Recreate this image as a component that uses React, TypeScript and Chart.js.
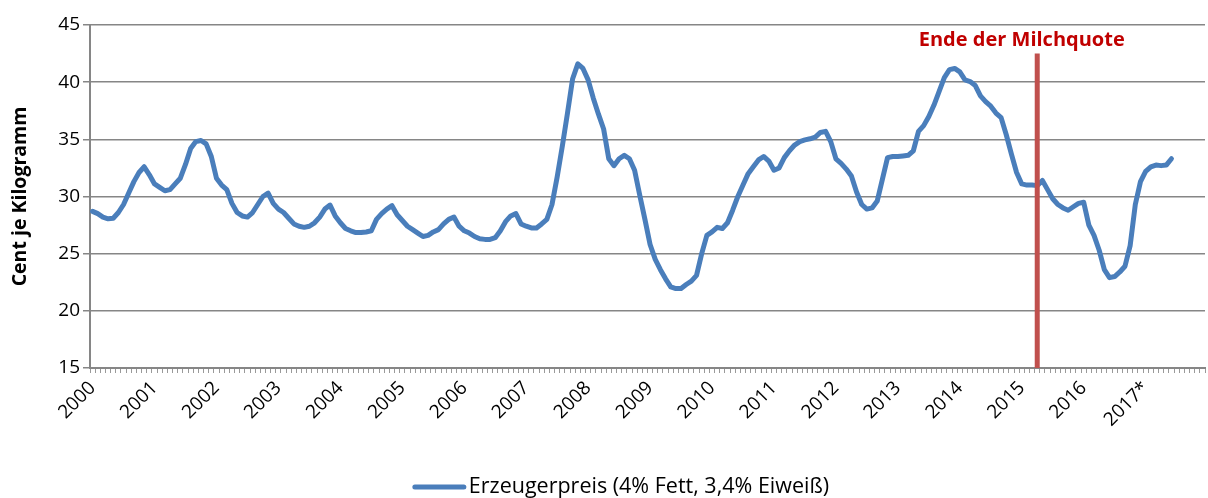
import { useEffect, useRef } from 'react';
import { Chart, registerables } from 'chart.js';

Chart.register(...registerables);

// Years on the category axis (one category per month, Jan 2000 – Dec 2017)
const years = [2000, 2001, 2002, 2003, 2004, 2005, 2006, 2007, 2008, 2009, 2010, 2011, 2012, 2013, 2014, 2015, 2016, 2017];
const yearTickLabels = ['2000', '2001', '2002', '2003', '2004', '2005', '2006', '2007', '2008', '2009', '2010', '2011', '2012', '2013', '2014', '2015', '2016', '2017*'];
const monthNames = ['Jan', 'Feb', 'Mär', 'Apr', 'Mai', 'Jun', 'Jul', 'Aug', 'Sep', 'Okt', 'Nov', 'Dez'];

// Erzeugerpreis (Cent je Kilogramm), monthly from Jan 2000
const priceValues = [
  // 2000
  28.7, 28.5, 28.2, 28.05, 28.1, 28.6, 29.3, 30.3, 31.3, 32.1, 32.6, 31.9,
  // 2001
  31.1, 30.8, 30.5, 30.6, 31.1, 31.6, 32.8, 34.2, 34.8, 34.9, 34.6, 33.5,
  // 2002
  31.6, 31.0, 30.6, 29.4, 28.6, 28.3, 28.2, 28.6, 29.3, 30.0, 30.3, 29.4,
  // 2003
  28.9, 28.6, 28.1, 27.6, 27.4, 27.3, 27.4, 27.7, 28.2, 28.9, 29.25, 28.3,
  // 2004
  27.7, 27.2, 27.0, 26.85, 26.85, 26.9, 27.0, 28.0, 28.5, 28.9, 29.2, 28.4,
  // 2005
  27.9, 27.4, 27.1, 26.8, 26.5, 26.6, 26.9, 27.1, 27.6, 28.0, 28.2, 27.4,
  // 2006
  27.0, 26.8, 26.5, 26.3, 26.25, 26.25, 26.4, 27.0, 27.8, 28.3, 28.5, 27.6,
  // 2007
  27.4, 27.25, 27.25, 27.6, 28.0, 29.3, 31.7, 34.4, 37.3, 40.3, 41.6, 41.2,
  // 2008
  40.2, 38.6, 37.2, 35.9, 33.3, 32.7, 33.3, 33.6, 33.3, 32.3, 30.1, 28.0,
  // 2009
  25.8, 24.5, 23.6, 22.8, 22.1, 21.95, 21.95, 22.3, 22.6, 23.1, 25.0, 26.6,
  // 2010
  26.9, 27.3, 27.2, 27.7, 28.8, 30.0, 31.0, 32.0, 32.6, 33.2, 33.5, 33.1,
  // 2011
  32.3, 32.5, 33.4, 34.0, 34.5, 34.8, 34.95, 35.05, 35.2, 35.6, 35.7, 34.8,
  // 2012
  33.3, 32.9, 32.4, 31.8, 30.4, 29.3, 28.9, 29.0, 29.6, 31.5, 33.4, 33.5,
  // 2013
  33.5, 33.55, 33.6, 34.0, 35.7, 36.2, 37.0, 38.0, 39.2, 40.4, 41.1, 41.2,
  // 2014
  40.9, 40.2, 40.05, 39.7, 38.8, 38.3, 37.9, 37.3, 36.9, 35.4, 33.7, 32.1,
  // 2015
  31.1, 31.0, 31.0, 30.95, 31.4, 30.6, 29.8, 29.3, 29.0, 28.8, 29.1, 29.4,
  // 2016
  29.5, 27.5, 26.6, 25.3, 23.6, 22.9, 23.0, 23.4, 23.9, 25.7, 29.3, 31.3,
  // 2017*
  32.2, 32.6, 32.75, 32.7, 32.75, 33.3,
];

const seriesLabel = 'Erzeugerpreis (4% Fett, 3,4% Eiweiß)';
const quotaLabel = 'Ende der Milchquote';
const quotaEndIndex = 183; // April 2015
const quotaLineTop = 42.5;
const quotaTextIndex = 180;
const quotaTextValue = 43.7;

const yMin = 15;
const yMax = 45;
const yStep = 5;

const monthLabels: string[] = [];
years.forEach((y) => monthNames.forEach((m) => monthLabels.push(`${m} ${y}`)));

const FONT = '"Open Sans", "Noto Sans", sans-serif';
const BLUE = '#4A7EBB';
const GRID = '#868686';

const quotaPlugin = {
  id: 'quotaLine',
  afterDatasetsDraw(chart: any) {
    const { ctx, scales } = chart;
    const x = scales.x.getPixelForValue(quotaEndIndex);
    const yTop = scales.y.getPixelForValue(quotaLineTop);
    const yBottom = scales.y.getPixelForValue(yMin);
    ctx.save();
    ctx.strokeStyle = '#C0504D';
    ctx.lineWidth = 5;
    ctx.beginPath();
    ctx.moveTo(x, yTop);
    ctx.lineTo(x, yBottom);
    ctx.stroke();
    ctx.fillStyle = '#C00000';
    ctx.font = `bold 20px ${FONT}`;
    ctx.textAlign = 'center';
    ctx.textBaseline = 'middle';
    ctx.fillText(quotaLabel, scales.x.getPixelForValue(quotaTextIndex), scales.y.getPixelForValue(quotaTextValue));
    ctx.restore();
  },
};

const legendPlugin = {
  id: 'bottomLegend',
  afterDraw(chart: any) {
    const { ctx } = chart;
    const ds = chart.data.datasets[0];
    ctx.save();
    ctx.font = `21.5px ${FONT}`;
    const textW = ctx.measureText(ds.label).width;
    const lineW = 53;
    const gap = 3;
    const total = lineW + gap + textW;
    const startX = chart.width / 2 + 17 - total / 2;
    const y = 487;
    ctx.strokeStyle = ds.borderColor;
    ctx.lineWidth = 5;
    ctx.lineCap = 'round';
    ctx.beginPath();
    ctx.moveTo(startX + 2, y);
    ctx.lineTo(startX + lineW - 2, y);
    ctx.stroke();
    ctx.fillStyle = '#000';
    ctx.textAlign = 'left';
    ctx.textBaseline = 'middle';
    ctx.fillText(ds.label, startX + lineW + gap, y);
    ctx.restore();
  },
};

export default function App() {
  const canvasRef = useRef<HTMLCanvasElement | null>(null);

  useEffect(() => {
    if (!canvasRef.current) return;
    const chart = new Chart(canvasRef.current, {
      type: 'line',
      data: {
        labels: monthLabels,
        datasets: [
          {
            label: seriesLabel,
            data: priceValues,
            borderColor: BLUE,
            backgroundColor: BLUE,
            borderWidth: 5,
            borderCapStyle: 'round',
            borderJoinStyle: 'round',
            pointRadius: 0,
            tension: 0,
            fill: false,
          },
        ],
      },
      options: {
        responsive: false,
        animation: false,
        layout: { padding: { left: 0, right: 3, top: 25, bottom: 0 } },
        plugins: {
          legend: { display: false },
          tooltip: { enabled: false },
        },
        scales: {
          x: {
            type: 'category',
            offset: true,
            afterFit: (scale: any) => {
              scale.height = 130;
              scale.paddingRight = 0;
              scale.paddingLeft = 0;
            },
            grid: {
              offset: true,
              drawOnChartArea: false,
              drawTicks: true,
              tickLength: 5,
              color: '#9a9a9a',
              lineWidth: 1,
            },
            border: { color: GRID, width: 2 },
            ticks: {
              autoSkip: false,
              minRotation: 45,
              maxRotation: 45,
              color: '#000',
              padding: 4,
              font: { family: FONT, size: 19 },
              callback: (_v: any, i: number) => (i % 12 === 0 ? yearTickLabels[i / 12] : ''),
            },
          },
          y: {
            min: yMin,
            max: yMax,
            afterFit: (scale: any) => {
              scale.width = 90;
            },
            grid: {
              color: GRID,
              lineWidth: 1.5,
              tickLength: 7,
            },
            border: { color: GRID, width: 2 },
            ticks: {
              stepSize: yStep,
              color: '#000',
              padding: 3,
              font: { family: FONT, size: 19 },
            },
            title: {
              display: true,
              text: 'Cent je Kilogramm',
              color: '#000',
              font: { family: FONT, size: 19.5, weight: 'bold' },
              padding: { top: 9, bottom: 0 },
            },
          },
        },
      },
      plugins: [quotaPlugin, legendPlugin],
    });
    return () => chart.destroy();
  }, []);

  return (
    <div style={{ position: 'fixed', left: 0, top: 0, width: 1208, height: 498, background: '#fff' }}>
      <canvas ref={canvasRef} width={1208} height={498} style={{ display: 'block' }} />
    </div>
  );
}
